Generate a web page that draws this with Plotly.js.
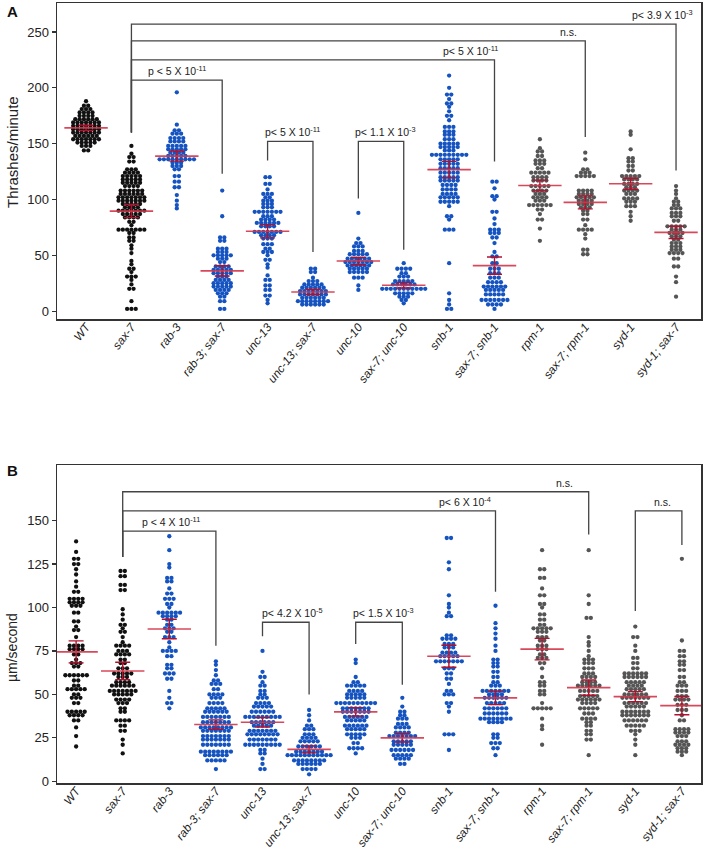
<!DOCTYPE html>
<html>
<head>
<meta charset="utf-8">
<script src="https://cdn.plot.ly/plotly-3.0.1.min.js"></script>
<style>body{margin:0;background:#fff}#myDiv{width:704px;height:849px}</style>
</head>
<body>
<div id="myDiv"></div>
<script>
var catNames = ['WT','sax-7','rab-3','rab-3; sax-7','unc-13','unc-13; sax-7','unc-10','sax-7; unc-10','snb-1','sax-7; snb-1','rpm-1','sax-7; rpm-1','syd-1','syd-1; sax-7'];

// panel A - thrashes/minute
var aWT = [188,184,184,181,181,181,178,178,178,178,175,175,175,175,172,172,172,172,172,172,169,169,169,169,169,169,169,166,166,166,166,166,166,166,163,163,163,163,163,163,163,160,160,160,160,160,160,160,157,157,157,157,157,157,154,154,154,154,154,154,154,151,151,151,151,151,148,148,148,144,144];
var aSax7 = [148,141,138,138,134,134,127,127,127,124,124,124,124,121,121,121,121,121,118,118,118,118,118,115,115,115,115,115,112,112,112,112,108,108,108,108,108,108,105,105,105,105,105,105,102,102,102,102,102,102,102,99,99,99,99,99,99,99,96,96,96,96,96,93,93,93,93,90,90,90,90,90,90,90,87,87,87,87,87,84,84,84,84,80,80,77,73,73,73,73,73,73,73,70,70,66,66,63,63,59,56,52,45,42,38,38,35,31,31,31,28,24,20,20,9,2,2,2];
var aRab3 = [196,167,162,162,159,159,159,155,155,155,155,152,152,152,152,148,148,148,148,148,145,145,145,145,145,142,142,142,142,139,139,139,139,139,136,136,136,136,136,136,136,136,136,133,133,133,130,130,130,127,127,121,121,116,116,111,111,104,99,95,92];
var aRab3Sax7 = [108,85,66,66,63,63,56,56,56,53,53,53,50,50,50,50,50,47,47,47,44,44,40,40,40,40,37,37,37,37,37,34,34,34,34,34,31,31,31,28,28,28,28,25,25,25,25,25,22,22,22,22,22,19,19,19,19,16,16,16,13,13,9,9,2,2];
var aUnc13 = [120,120,114,114,109,105,105,105,102,102,99,99,99,96,96,96,93,93,93,89,89,89,89,89,89,89,85,85,85,82,82,82,82,79,79,79,79,79,79,76,76,76,76,71,71,71,71,71,71,71,68,68,68,68,65,65,65,60,60,60,56,56,53,53,53,50,46,46,42,39,32,28,28,23,23,19,19,14,14,10,7];
var aUnc13Sax7 = [38,38,35,35,30,27,27,27,24,24,24,24,24,21,21,21,21,21,21,18,18,18,18,18,18,18,15,15,15,15,15,15,15,12,12,12,12,12,12,9,9,9,9,9,9,9,9,6,6,6,6,6,6];
var aUnc10 = [88,65,61,61,58,58,58,54,54,54,51,51,51,51,51,47,47,47,47,47,47,44,44,44,44,44,44,44,41,41,41,41,41,41,38,38,38,38,38,35,35,35,35,35,30,30,30,23,19];
var aSax7Unc10 = [43,38,38,38,38,34,34,31,31,31,27,27,27,27,27,24,24,24,24,24,24,20,20,20,20,20,20,20,20,20,20,20,16,16,16,16,16,13,13,13,10,10,7];
var aSnb1 = [211,200,194,194,190,186,186,183,179,175,175,171,165,165,165,161,161,161,158,158,158,154,154,154,150,150,150,150,150,147,147,147,147,147,144,144,144,140,140,140,140,140,140,140,140,140,136,136,136,136,136,132,132,132,132,132,128,128,128,128,128,124,124,124,124,124,120,120,120,120,120,117,117,117,117,117,113,113,113,113,109,109,109,109,105,105,105,105,102,102,102,102,102,98,98,98,98,98,94,85,85,82,73,73,73,43,16,10,6,2,2];
var aSax7Snb1 = [116,116,110,103,103,100,89,89,83,78,73,73,73,70,70,70,66,66,61,53,49,49,43,43,38,38,38,34,34,34,30,30,30,26,26,26,26,22,22,22,22,22,22,19,19,19,19,19,15,15,15,15,15,10,10,10,10,10,10,10,6,6,6,6,2];
var aRpm1 = [154,146,143,143,139,139,135,135,135,132,132,132,128,128,124,124,124,124,124,120,120,120,120,117,117,117,117,112,112,112,112,112,108,108,108,108,105,105,105,102,102,102,102,99,99,99,95,95,95,95,95,95,91,91,87,82,82,74,63];
var aSax7Rpm1 = [142,136,127,127,124,124,124,121,121,121,121,121,108,108,108,108,105,105,105,105,102,102,102,102,102,99,99,99,99,96,96,96,96,93,93,93,90,90,87,87,82,82,77,73,73,73,73,69,65,55,55,51,51];
var aSyd1 = [161,158,145,137,137,134,134,130,130,126,126,121,121,121,121,121,118,118,118,118,114,114,114,114,111,111,111,108,108,108,108,105,105,105,101,101,101,101,98,98,98,94,94,94,89,85,81];
var aSyd1Sax7 = [112,108,105,101,98,98,95,95,92,92,92,88,88,88,85,85,85,81,81,76,76,76,76,76,73,73,73,70,70,70,70,67,67,67,64,64,61,61,61,58,58,58,55,55,55,52,52,52,52,47,47,40,40,31,26,13];

// panel B - um/second
var bWT = [138,132,128,128,125,125,122,119,115,112,109,109,105,105,105,105,103,103,103,103,101,101,101,97,97,92,92,89,87,87,83,78,78,78,78,76,76,76,76,73,73,70,68,68,68,66,66,61,61,61,61,61,61,58,58,55,55,53,53,53,53,53,50,50,48,48,48,45,45,40,40,40,40,40,38,38,38,38,35,35,31,26,20];
var bSax7 = [121,121,118,118,113,113,110,110,99,96,93,90,90,88,86,86,83,80,78,78,78,78,75,75,75,73,73,73,73,70,70,68,68,65,65,65,62,62,62,62,62,60,60,60,57,57,57,57,55,55,55,55,55,55,52,52,52,52,52,52,52,50,50,50,50,50,47,47,47,47,45,45,45,42,42,40,40,35,35,35,35,32,32,29,29,24,21,16];
var bRab3 = [141,133,125,123,117,117,115,115,111,108,108,105,105,105,102,102,100,97,97,97,97,97,97,95,95,95,95,93,93,90,90,88,88,88,86,86,83,83,83,80,77,75,75,75,75,72,72,67,67,65,65,62,62,62,59,59,52,48,45,45,42];
var bRab3Sax7 = [69,67,64,61,58,58,56,56,56,53,53,50,50,50,50,48,48,48,45,45,45,45,42,42,42,42,42,40,40,40,40,40,40,37,37,37,37,37,37,37,34,34,34,34,34,34,34,31,31,31,31,31,31,31,31,29,29,29,29,29,29,29,26,26,26,26,26,26,26,24,24,24,24,24,24,24,21,21,21,21,21,21,21,17,17,17,17,17,17,17,17,15,15,15,15,15,15,12,12,12,12,12,7];
var bUnc13 = [75,63,60,60,57,55,55,52,52,50,50,48,48,48,45,45,45,45,43,43,43,43,43,40,40,40,40,40,40,37,37,37,37,37,37,37,37,37,34,34,34,34,34,34,32,32,32,32,32,29,29,29,29,29,29,29,27,27,27,27,27,27,27,27,24,24,24,24,24,24,24,21,21,21,21,21,21,21,21,21,18,18,16,16,13,10,7,7];
var bUnc13Sax7 = [41,38,35,32,32,30,30,30,27,27,27,25,25,25,25,23,23,23,23,23,20,20,20,20,20,20,17,17,17,17,17,17,17,15,15,15,15,15,15,15,15,15,15,15,12,12,12,12,12,12,12,12,10,10,10,10,10,10,7,7,7,7,4];
var bUnc10 = [70,68,60,57,57,55,55,55,55,55,52,52,52,52,50,50,50,50,50,48,48,48,48,48,45,45,45,45,45,45,45,45,45,45,42,42,42,42,42,42,42,40,40,40,40,40,40,40,37,37,37,37,37,37,35,35,35,35,35,32,32,32,32,32,32,30,30,30,30,30,27,27,27,27,27,25,25,25,22,22,19,19,19,19,16];
var bSax7Unc10 = [48,43,40,40,38,38,36,36,36,33,33,33,31,31,31,31,28,28,28,28,26,26,26,26,26,26,26,23,23,23,23,23,21,21,21,21,21,18,18,18,18,18,18,15,15,15,15,15,13,13,13,13,10,10];
var bSnb1 = [140,140,126,122,107,102,100,97,95,95,84,84,82,82,82,82,79,79,79,77,77,77,74,74,74,74,72,72,72,72,72,69,69,69,69,69,69,69,65,65,65,62,62,59,59,56,52,52,50,50,50,45,45,43,40,27,27,27,18];
var bSax7Snb1 = [101,91,88,85,82,78,75,70,70,68,68,66,66,63,63,60,60,57,57,55,55,55,52,52,52,52,52,52,52,50,50,50,50,48,48,48,48,48,48,45,45,45,45,45,42,42,42,42,42,42,39,39,39,39,39,39,36,36,36,36,36,36,36,36,34,34,34,34,27,27,25,25,22,22,22,19,19,15];
var bRpm1 = [133,122,122,117,117,111,107,107,102,102,100,96,96,93,93,90,90,88,88,88,88,88,86,86,86,83,83,83,81,81,78,78,78,76,76,76,73,73,71,71,71,68,68,65,60,57,57,55,55,52,52,50,50,45,42,42,42,42,42,36,32,30,21];
var bSax7Rpm1 = [133,107,102,94,94,83,80,78,75,72,70,70,70,68,68,68,65,65,65,62,62,62,60,60,60,60,57,57,57,57,55,55,55,55,55,55,52,52,52,52,52,49,49,49,49,49,47,47,47,47,47,47,45,45,45,45,42,42,42,42,42,39,39,39,36,36,36,36,34,34,32,32,29,29,27,27,24,24,15];
var bSyd1 = [89,83,83,78,75,71,71,68,68,65,65,62,62,62,62,62,62,60,60,60,60,60,60,57,57,57,57,57,55,55,55,55,53,53,53,53,53,50,50,50,50,50,50,48,48,48,48,48,48,48,45,45,45,45,45,45,43,43,43,43,43,40,40,40,40,40,40,40,38,38,38,38,38,38,38,35,35,35,35,35,35,32,32,32,32,32,29,29,29,27,24,21,15];
var bSyd1Sax7 = [128,81,75,75,72,72,69,69,67,67,64,64,60,60,57,57,55,55,55,52,52,52,49,49,49,47,47,47,47,44,44,44,41,41,41,38,35,35,30,30,30,30,28,28,28,28,26,26,26,23,23,23,21,21,21,21,19,19,19,17,17,17,15];

var groupsA = [aWT,aSax7,aRab3,aRab3Sax7,aUnc13,aUnc13Sax7,aUnc10,aSax7Unc10,aSnb1,aSax7Snb1,aRpm1,aSax7Rpm1,aSyd1,aSyd1Sax7];
var groupsB = [bWT,bSax7,bRab3,bRab3Sax7,bUnc13,bUnc13Sax7,bUnc10,bSax7Unc10,bSnb1,bSax7Snb1,bRpm1,bSax7Rpm1,bSyd1,bSyd1Sax7];

// significance brackets: from, to, top, left leg end, right leg end, label, label x
var bracketsA = [
  [1,13,257,160,126,'p< 3.9 X 10<sup>-3</sup>',12.7],
  [1,11,242,160,156,'n.s.',10.64],
  [1,9,225,160,134,'p< 5 X 10<sup>-11</sup>',8.48],
  [1,3,207,160,123,'p < 5 X 10<sup>-11</sup>',2.0],
  [4,5,152,135,53,'p< 5 X 10<sup>-11</sup>',4.54],
  [6,7,152,101,55,'p< 1.1 X 10<sup>-3</sup>',6.6]
];
var bracketsB = [
  [1,11,166.6,129,142,'n.s.',10.49],
  [1,9,155.6,129,109,'p< 6 X 10<sup>-4</sup>',8.35],
  [1,3,144,129,78,'p < 4 X 10<sup>-11</sup>',2.04],
  [4,5,91.5,83.5,50,'p< 4.2 X 10<sup>-5</sup>',4.64],
  [6,7,91.5,79,55.5,'p< 1.5 X 10<sup>-3</sup>',6.59],
  [12,13,155.6,98,136,'n.s.',12.58]
];

var FONT = '"Liberation Sans", Arial, sans-serif';
var dotColor = ['#111','#111','#1553c0','#1553c0','#1553c0','#1553c0','#1553c0','#1553c0','#1553c0','#1553c0','#555','#555','#555','#555'];
var W = 704, H = 849, mL = 57, mR = 3, mT = 3, mB = 66;
var plotW = W - mL - mR, plotH = H - mT - mB;
var rangeXA = [-0.64, 13.55], rangeXB = [-0.41, 13.41];
var dotPx = 4.3;

function swarm(vals, pos, step) {
  var rows = {}, keys = [];
  vals.forEach(function(v){ if (!rows[v]) { rows[v] = 0; keys.push(v); } rows[v]++; });
  var xs = [], ys = [];
  keys.forEach(function(v){
    var k = rows[v];
    for (var i = 0; i < k; i++) { xs.push(pos + (i - (k - 1) / 2) * step); ys.push(v); }
  });
  return {x: xs, y: ys};
}

function stats(vals) {
  var n = vals.length, m = 0, s = 0;
  vals.forEach(function(v){ m += v; }); m /= n;
  vals.forEach(function(v){ s += (v - m) * (v - m); });
  var sd = Math.sqrt(s / (n - 1));
  return {mean: m, ci: 1.96 * sd / Math.sqrt(n)};
}

var data = [], shapes = [], annotations = [];

function panel(groups, brackets, xa, ya, rangeX) {
  var step = dotPx * (rangeX[1] - rangeX[0]) / plotW;
  var means = [], cis = [], idx = [];
  groups.forEach(function(g, i){
    var sw = swarm(g, i, step);
    data.push({type:'scatter', mode:'markers', x: sw.x, y: sw.y, xaxis: xa, yaxis: ya,
      marker:{size: dotPx, color: dotColor[i], line:{width:0}}, hoverinfo:'y'});
    var st = stats(g);
    means.push(st.mean); cis.push(st.ci); idx.push(i);
  });
  data.push({type:'scatter', mode:'markers', x: idx, y: means, xaxis: xa, yaxis: ya,
    marker:{symbol:'line-ew-open', size:31, color:'rgba(212,52,72,0.9)', line:{color:'rgba(212,52,72,0.9)', width:1.6}},
    error_y:{type:'data', array: cis, visible:true, color:'#b3102c', thickness:1.4, width:7.5}});
  brackets.forEach(function(b){
    shapes.push({type:'path', xref: xa, yref: ya,
      path: 'M ' + b[0] + ',' + b[3] + ' L ' + b[0] + ',' + b[2] + ' L ' + b[1] + ',' + b[2] + ' L ' + b[1] + ',' + b[4],
      line:{color:'#444', width:1.3}});
    annotations.push({xref: xa, yref: ya, x: b[6], y: b[2], text: b[5], showarrow:false,
      xanchor:'center', yanchor:'bottom', yshift:1, font:{family: FONT, size:10.5, color:'#222'}});
  });
}

panel(groupsA, bracketsA, 'x', 'y', rangeXA);
panel(groupsB, bracketsB, 'x2', 'y2', rangeXB);

function px2paperY(py) { return (H - mB - py) / plotH; }
function px2paperX(px) { return (px - mL) / plotW; }

annotations.push({xref:'paper', yref:'paper', x: px2paperX(12), y: px2paperY(152), text:'Thrashes/minute', textangle:-90,
  showarrow:false, xanchor:'center', yanchor:'middle', font:{family: FONT, size:15, color:'#222'}});
annotations.push({xref:'paper', yref:'paper', x: px2paperX(12), y: px2paperY(648), text:'\u00b5m/second', textangle:-90,
  showarrow:false, xanchor:'center', yanchor:'middle', font:{family: FONT, size:14, color:'#222'}});
annotations.push({xref:'paper', yref:'paper', x: px2paperX(12), y: px2paperY(12), text:'<b>A</b>',
  showarrow:false, xanchor:'center', yanchor:'middle', font:{family: FONT, size:15, color:'#111'}});
annotations.push({xref:'paper', yref:'paper', x: px2paperX(12), y: px2paperY(470), text:'<b>B</b>',
  showarrow:false, xanchor:'center', yanchor:'middle', font:{family: FONT, size:15, color:'#111'}});

var tickIdx = catNames.map(function(c, i){ return i; });
function xAxis(range, anchor) {
  return {range: range, anchor: anchor, tickvals: tickIdx, ticktext: catNames, tickangle: -52,
    tickfont:{family: FONT, size:11.8, style:'italic', color:'#222'}, ticks:'', ticklabelstandoff: -5,
    showline:true, mirror:true, linecolor:'#333', linewidth:1.5, showgrid:false, zeroline:false, fixedrange:true};
}
function yAxis(domain, range, ticks, anchor) {
  return {domain: domain, range: range, anchor: anchor, tickvals: ticks, ticks:'outside', ticklen:4, tickwidth:1.2,
    tickcolor:'#333', tickfont:{family: FONT, size:13, color:'#222'},
    showline:true, mirror:true, linecolor:'#333', linewidth:1.5, showgrid:false, zeroline:false, fixedrange:true};
}

var layout = {
  width: W, height: H, showlegend: false,
  margin:{l: mL, r: mR, t: mT, b: mB},
  paper_bgcolor:'#fff', plot_bgcolor:'#fff',
  xaxis: xAxis(rangeXA, 'y'),
  yaxis: yAxis([px2paperY(319), 1], [-7, 276], [0,50,100,150,200,250], 'x'),
  xaxis2: xAxis(rangeXB, 'y2'),
  yaxis2: yAxis([0, px2paperY(465)], [-1, 182], [0,25,50,75,100,125,150], 'x2'),
  shapes: shapes,
  annotations: annotations
};

Plotly.newPlot('myDiv', data, layout, {displayModeBar:false, staticPlot:true});
</script>
</body>
</html>
